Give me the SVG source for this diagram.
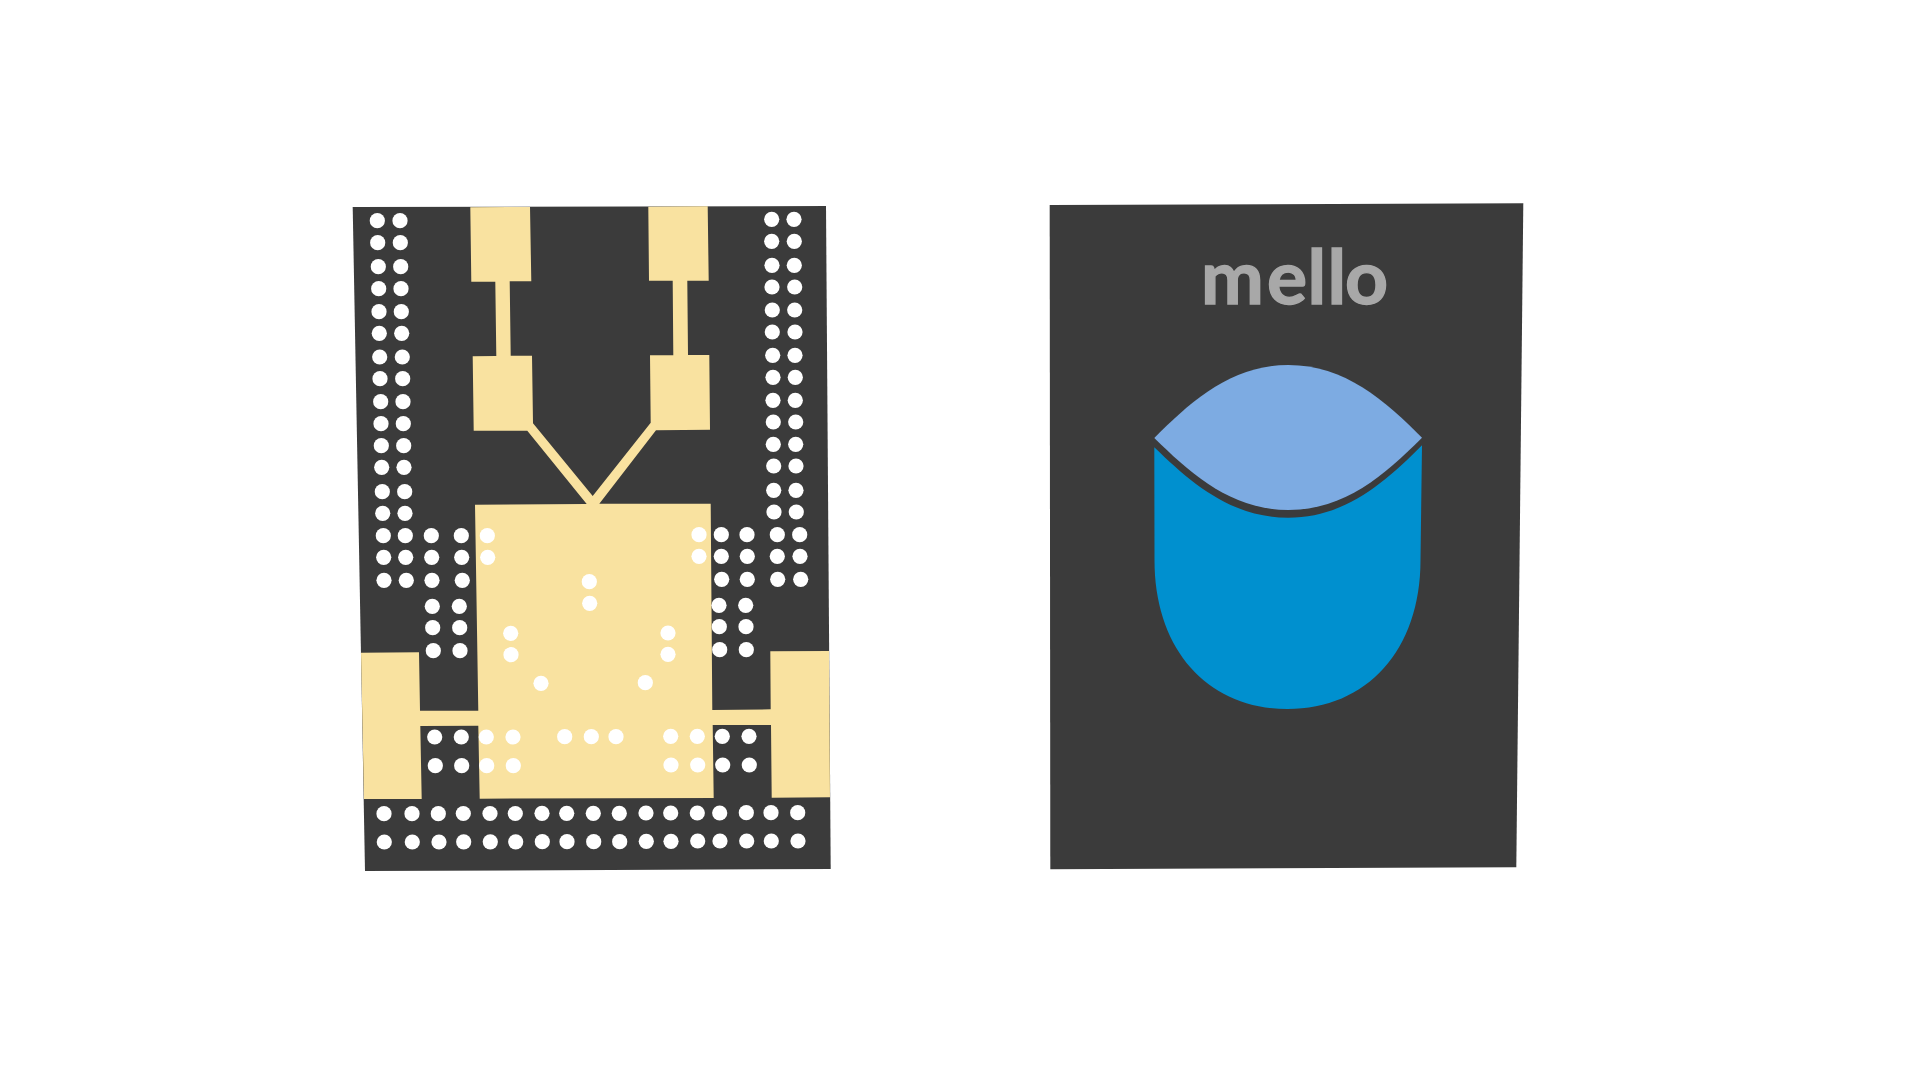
<svg xmlns="http://www.w3.org/2000/svg" width="1920" height="1080" viewBox="0 0 1920 1080">
<style>
.board{fill:#3b3b3b}
.gold{fill:#f9e2a0}
.d circle{fill:#fff;r:7.6px}
.mello{font-family:Lato,"Open Sans",sans-serif;font-weight:700;font-size:75px;fill:#a8a8a8;stroke:#a8a8a8;stroke-width:1.4px}
</style>
<rect width="1920" height="1080" fill="#fff"/>
<g id="left-board">
<polygon class="board" points="352.7,207 826,206 830.7,869 365,871"/>
<polygon class="gold" points="470.3,207.3 530,207 531.3,281.3 509.7,281.3 510.7,355.7 532,355.7 533,423.3 592.7,496 650.7,422.7 650,355.3 673.3,355.3 672.7,280.7 649,280.7 648.3,206.7 707.7,206.3 708.7,280.7 687.3,280.7 688,355 709.3,355 710,429.7 656,430.3 599.3,503.7 710.7,503.7 712.3,710 770.7,709.3 770.3,651.3 829,651 830,797.3 771.7,797.7 771,725 712.7,725 713.7,798 479.7,798.7 478.3,725.7 420.3,726 421.7,799 364,799 361,652.7 419,652.3 420,710.7 478.3,710.7 475,504.7 586.7,504 527.3,430.7 473.7,430.7 472.7,356.3 496.3,356 495.3,281.7 471.3,281.7"/>
<g class="d">
<circle cx="377.3" cy="220.7"/><circle cx="400" cy="220.7"/>
<circle cx="377.7" cy="242.7"/><circle cx="400.3" cy="242.7"/>
<circle cx="378.3" cy="266.7"/><circle cx="400.7" cy="266.7"/>
<circle cx="378.7" cy="288.7"/><circle cx="401" cy="288.7"/>
<circle cx="379" cy="311.7"/><circle cx="401.3" cy="311.7"/>
<circle cx="379.3" cy="333.3"/><circle cx="401.7" cy="333.3"/>
<circle cx="379.7" cy="357"/><circle cx="402.3" cy="357"/>
<circle cx="380" cy="378.7"/><circle cx="402.7" cy="378.7"/>
<circle cx="380.7" cy="401.7"/><circle cx="403" cy="401.7"/>
<circle cx="381" cy="423.7"/><circle cx="403.3" cy="423.7"/>
<circle cx="381.3" cy="445.7"/><circle cx="403.7" cy="445.7"/>
<circle cx="381.7" cy="467.3"/><circle cx="404" cy="467.3"/>
<circle cx="382.3" cy="491.7"/><circle cx="404.7" cy="491.7"/>
<circle cx="382.7" cy="513.3"/><circle cx="405" cy="513.3"/>
<circle cx="771.7" cy="219.3"/><circle cx="794" cy="219.3"/>
<circle cx="771.7" cy="241.3"/><circle cx="794.3" cy="241.3"/>
<circle cx="772" cy="265.3"/><circle cx="794.3" cy="265.3"/>
<circle cx="772" cy="287"/><circle cx="794.7" cy="287"/>
<circle cx="772.3" cy="310"/><circle cx="794.7" cy="310"/>
<circle cx="772.3" cy="332"/><circle cx="795" cy="332"/>
<circle cx="772.7" cy="355.3"/><circle cx="795" cy="355.3"/>
<circle cx="773" cy="377.3"/><circle cx="795.3" cy="377.3"/>
<circle cx="773" cy="400.3"/><circle cx="795.3" cy="400.3"/>
<circle cx="773.3" cy="422"/><circle cx="795.7" cy="422"/>
<circle cx="773.3" cy="444.3"/><circle cx="795.7" cy="444.3"/>
<circle cx="773.7" cy="466"/><circle cx="796" cy="466"/>
<circle cx="773.7" cy="490.3"/><circle cx="796" cy="490.3"/>
<circle cx="774" cy="512"/><circle cx="796.3" cy="512"/>
<circle cx="383.3" cy="535.7"/><circle cx="405.3" cy="535.7"/><circle cx="431.3" cy="535.7"/><circle cx="461.3" cy="535.7"/><circle cx="487.3" cy="535.7"/>
<circle cx="383.7" cy="557.3"/><circle cx="405.7" cy="557.3"/><circle cx="431.7" cy="557.3"/><circle cx="461.7" cy="557.3"/><circle cx="487.7" cy="557.3"/>
<circle cx="384" cy="580.3"/><circle cx="406.3" cy="580.3"/><circle cx="432" cy="580.3"/><circle cx="462.3" cy="580.3"/>
<circle cx="432.3" cy="606.3"/><circle cx="459.3" cy="606.3"/>
<circle cx="432.7" cy="627.7"/><circle cx="459.7" cy="627.7"/>
<circle cx="433.3" cy="650.7"/><circle cx="460" cy="650.7"/>
<circle cx="699" cy="534.7"/><circle cx="721.3" cy="534.7"/><circle cx="747" cy="534.7"/><circle cx="777.3" cy="534.7"/><circle cx="799.7" cy="534.7"/>
<circle cx="699" cy="556.3"/><circle cx="721.3" cy="556.3"/><circle cx="747.3" cy="556.3"/><circle cx="777.3" cy="556.3"/><circle cx="800" cy="556.3"/>
<circle cx="721.7" cy="579.3"/><circle cx="747.3" cy="579.3"/><circle cx="777.7" cy="579.3"/><circle cx="800.7" cy="579.3"/>
<circle cx="719" cy="605.3"/><circle cx="745.7" cy="605.3"/>
<circle cx="719.3" cy="626.7"/><circle cx="746" cy="626.7"/>
<circle cx="719.7" cy="649.7"/><circle cx="746.3" cy="649.7"/>
<circle cx="589.3" cy="581.7"/><circle cx="589.7" cy="603.3"/>
<circle cx="510.7" cy="633.3"/><circle cx="511" cy="654.7"/>
<circle cx="668" cy="633"/><circle cx="668" cy="654.3"/>
<circle cx="541" cy="683.3"/><circle cx="645.3" cy="682.7"/>
<circle cx="434.7" cy="737"/><circle cx="461.3" cy="737"/><circle cx="486.3" cy="737"/><circle cx="513" cy="737"/><circle cx="564.7" cy="736.7"/><circle cx="591.3" cy="736.7"/><circle cx="616" cy="736.7"/><circle cx="670.7" cy="736.3"/><circle cx="697.3" cy="736.3"/><circle cx="722.3" cy="736.3"/><circle cx="749" cy="736.3"/>
<circle cx="435.3" cy="765.7"/><circle cx="461.7" cy="765.7"/><circle cx="486.7" cy="765.7"/><circle cx="513.3" cy="765.7"/><circle cx="671" cy="765"/><circle cx="697.7" cy="765"/><circle cx="722.7" cy="765"/><circle cx="749.3" cy="765"/>
<circle cx="384" cy="813.7"/><circle cx="412" cy="813.7"/><circle cx="438.3" cy="813.7"/><circle cx="463.3" cy="813.5"/><circle cx="490" cy="813.5"/><circle cx="515.3" cy="813.5"/><circle cx="542" cy="813.3"/><circle cx="566.7" cy="813.3"/><circle cx="593.3" cy="813.3"/><circle cx="619.3" cy="813.3"/><circle cx="646" cy="813"/><circle cx="670.7" cy="813"/><circle cx="697.3" cy="813"/><circle cx="719.7" cy="813"/><circle cx="746.3" cy="812.7"/><circle cx="771" cy="812.7"/><circle cx="797.7" cy="812.7"/>
<circle cx="384.3" cy="842"/><circle cx="412.3" cy="842"/><circle cx="439" cy="842"/><circle cx="463.7" cy="841.8"/><circle cx="490.3" cy="841.8"/><circle cx="515.7" cy="841.8"/><circle cx="542.3" cy="841.7"/><circle cx="567" cy="841.7"/><circle cx="593.7" cy="841.7"/><circle cx="619.7" cy="841.7"/><circle cx="646.3" cy="841.3"/><circle cx="671" cy="841.3"/><circle cx="697.7" cy="841"/><circle cx="720" cy="841"/><circle cx="746.7" cy="841"/><circle cx="771.3" cy="841"/><circle cx="798" cy="841"/>
</g>
</g>
<g id="right-board">
<polygon class="board" points="1049.7,205 1523.3,203.3 1516.3,867.3 1050.3,869.3"/>
<text class="mello" x="1201 1267 1307.5 1327.5 1345" y="303.5">mello</text>
<path fill="#0090cf" d="M1154.3 447.3C1192 484 1232 517.7 1288.3 517.7C1344.6 517.7 1384.6 483 1422 445.3L1420.5 560C1420.5 650 1367 709 1287.5 709C1208 709 1154.5 650 1154.5 560Z"/>
<path fill="#7dabe2" d="M1154.3 438C1192 400 1232 365 1288.3 365C1344.6 365 1384.6 400 1422 437.7C1384.6 475 1344.6 510 1288.3 510C1232 510 1192 475 1154.3 438Z"/>
</g>
</svg>
